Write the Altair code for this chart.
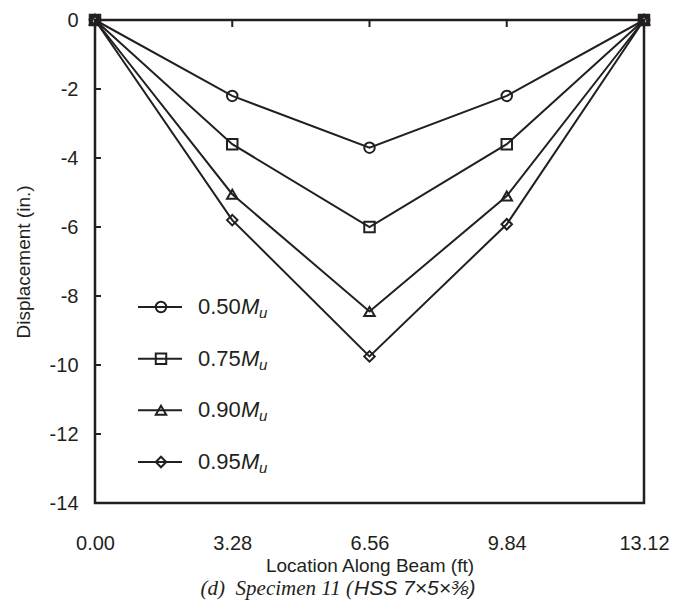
import altair as alt
import pandas as pd

# ---- data ----
x_loc = [0.00, 3.28, 6.56, 9.84, 13.12]
series_names = ["0.50", "0.75", "0.90", "0.95"]
disp_050 = [0.0, -2.2, -3.7, -2.2, 0.0]
disp_075 = [0.0, -3.6, -6.0, -3.6, 0.0]
disp_090 = [0.0, -5.05, -8.45, -5.1, 0.0]
disp_095 = [0.0, -5.8, -9.75, -5.92, 0.0]
y_tick_values = [0, -2, -4, -6, -8, -10, -12, -14]
x_tick_values = [0.00, 3.28, 6.56, 9.84, 13.12]
inner_x_ticks = [3.28, 6.56, 9.84]
inner_y_ticks = [-2, -4, -6, -8, -10, -12]
shapes = ["circle", "square", "triangle-up", "diamond"]
marker_sizes = [110, 110, 110, 90]
caption_serif = "(d)\u00a0\u00a0Specimen 11 ("
caption_sans = "HSS 7\u00d75\u00d7\u215c)"

INK = "#231f20"
SANS = "Liberation Sans"
SERIF = "Liberation Serif"

rows = []
for name, vals in zip(series_names, [disp_050, disp_075, disp_090, disp_095]):
    for xv, yv in zip(x_loc, vals):
        rows.append({"series": name, "loc": xv, "disp": yv})
df = pd.DataFrame(rows)

xscale = alt.Scale(domain=[0, 13.12], nice=False, zero=False)
yscale = alt.Scale(domain=[-14, 0], nice=False, zero=False)
shape_scale = alt.Scale(domain=series_names, range=shapes)
size_scale = alt.Scale(domain=series_names, range=marker_sizes)

x_axis = alt.Axis(values=x_tick_values, format=".2f", ticks=False, domain=False,
                  grid=False, labelPadding=30, titlePadding=3, labelFlush=False)


def xq(field):
    return alt.X(field, scale=xscale, title="Location Along Beam (ft)", axis=x_axis)


y_enc = alt.Y(
    "disp:Q", scale=yscale, title="Displacement (in.)",
    axis=alt.Axis(values=y_tick_values, labelExpr="'' + datum.value", ticks=False,
                  domain=False, grid=False, labelPadding=17, titlePadding=16,
                  labelFlush=False),
)

lines = alt.Chart(df).mark_line(color=INK, strokeWidth=2).encode(
    x=xq("loc:Q"), y=y_enc, detail="series:N"
)
points = alt.Chart(df).mark_point(filled=False, color=INK, strokeWidth=2, opacity=1).encode(
    x=xq("loc:Q"),
    y=alt.Y("disp:Q", scale=yscale, axis=None),
    shape=alt.Shape("series:N", scale=shape_scale, legend=None),
    size=alt.Size("series:N", scale=size_scale, legend=None),
)

top_ticks = alt.Chart(pd.DataFrame({"loc": inner_x_ticks})).mark_rule(color=INK, strokeWidth=2).encode(
    x=xq("loc:Q"), y=alt.value(0), y2=alt.value(7)
)
left_ticks = alt.Chart(pd.DataFrame({"t": inner_y_ticks})).mark_rule(color=INK, strokeWidth=2).encode(
    y=alt.Y("t:Q", scale=yscale, axis=None), x=alt.value(0), x2=alt.value(6)
)

# ---- manual legend ----
leg = pd.DataFrame({"series": series_names})
leg_y = alt.Y("series:N", scale=alt.Scale(type="point", domain=series_names,
                                          range=[287, 442], padding=0), axis=None)
leg_line = alt.Chart(leg).mark_rule(color=INK, strokeWidth=2).encode(
    y=leg_y, x=alt.value(43), x2=alt.value(87)
)
leg_pt = alt.Chart(leg).mark_point(filled=False, color=INK, strokeWidth=2, opacity=1).encode(
    y=leg_y, x=alt.value(66),
    shape=alt.Shape("series:N", scale=shape_scale, legend=None),
    size=alt.Size("series:N", scale=size_scale, legend=None),
)
leg_num = alt.Chart(leg).mark_text(align="left", baseline="middle", font=SANS,
                                   fontSize=22, color=INK).encode(
    y=leg_y, x=alt.value(103), text="series:N"
)
leg_M = alt.Chart(leg).mark_text(align="left", baseline="middle", font=SANS,
                                 fontSize=22, fontStyle="italic", color=INK).encode(
    y=leg_y, x=alt.value(146), text=alt.value("M")
)
leg_u = alt.Chart(leg).mark_text(align="left", baseline="middle", font=SANS,
                                 fontSize=15, fontStyle="italic", color=INK, dy=6).encode(
    y=leg_y, x=alt.value(164), text=alt.value("u")
)

# ---- caption (two fonts, like the reference) ----
cap_a = alt.Chart(pd.DataFrame({"c": [caption_serif]})).mark_text(
    align="right", baseline="middle", font=SERIF, fontStyle="italic",
    fontSize=21, color=INK).encode(x=alt.value(258), y=alt.value(569), text="c:N")
cap_b = alt.Chart(pd.DataFrame({"c": [caption_sans]})).mark_text(
    align="left", baseline="middle", font=SANS, fontStyle="italic",
    fontSize=21, color=INK).encode(x=alt.value(259), y=alt.value(569), text="c:N")

chart = alt.layer(
    lines, points, top_ticks, left_ticks, leg_line, leg_pt, leg_num, leg_M, leg_u,
    cap_a, cap_b
).resolve_scale(y="independent").properties(
    width=549, height=483,
    autosize=alt.AutoSizeParams(type="none"),
    padding={"left": 87, "top": 12, "right": 38, "bottom": 99},
).configure_view(stroke=INK, strokeWidth=2.5).configure_axis(
    labelFont=SANS, titleFont=SANS, labelFontSize=20, titleFontSize=19,
    labelColor=INK, titleColor=INK, titleFontWeight="normal",
)

chart.save("out.html", embed_options={"renderer": "svg", "actions": False})
